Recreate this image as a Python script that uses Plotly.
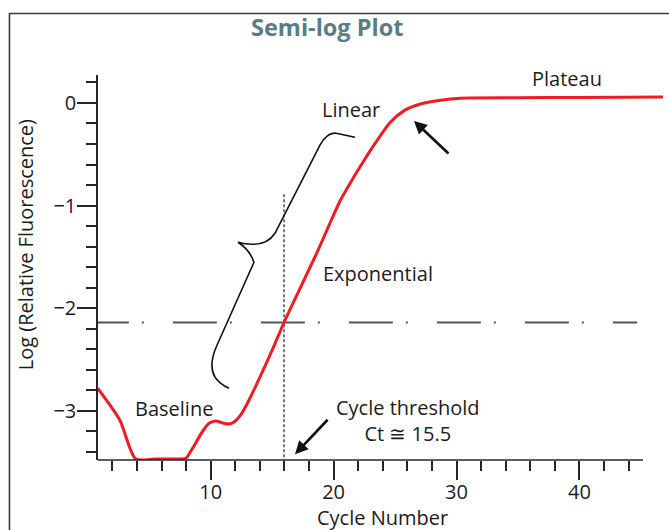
import numpy as np
import plotly.graph_objects as go

# Amplification curve: cycle number vs log(relative fluorescence)
cycles = [0.8, 2.6, 3.9, 5.5, 7.6, 8.0, 8.5, 9.4, 9.9, 10.4, 11.0, 11.5, 11.9,
          12.5, 13.1, 13.9, 15.0, 16.0, 17.3, 18.6, 19.6, 20.5, 21.5, 22.4,
          23.4, 24.6, 25.8, 27.0, 28.7, 30.3, 35.0, 40.0, 46.8]
log_fluor = [-2.78, -3.09, -3.47, -3.47, -3.47, -3.46, -3.37, -3.19, -3.12, -3.10,
             -3.12, -3.13, -3.11, -3.03, -2.90, -2.70, -2.41, -2.13, -1.80, -1.47,
             -1.20, -0.96, -0.75, -0.575, -0.39, -0.19, -0.07, -0.013, 0.026,
             0.046, 0.05, 0.054, 0.058]

threshold = -2.14
ct_label = 15.5

x_tick_vals = [10, 20, 30, 40]
x_minor_vals = [v for v in range(2, 46, 2) if v % 10]
y_tick_vals = [0, -1, -2, -3]
y_tick_text = ["0", "\u22121", "\u22122", "\u22123"]
y_minor_vals = [round(-3.4 + 0.2 * i, 1) for i in range(19)]
y_minor_vals = [v for v in y_minor_vals if abs(v - round(v)) > 1e-6]

X_RANGE = [0.83, 46.8]
Y_RANGE = [-3.48, 0.2724]

INK = "#1c1c1c"
AXIS = "#262626"
RED = "#ee1c24"
FONT = "Open Sans"

# Cycle where the rising curve meets the threshold
cx = np.array(cycles)
cy = np.array(log_fluor)
rise = (cx >= 13) & (cx <= 21)
ct_cross = float(np.interp(threshold, cy[rise], cx[rise]))

fig = go.Figure()

# threshold line (dash-dot)
fig.add_trace(go.Scatter(
    x=[-0.24, 44.7], y=[threshold, threshold], mode="lines",
    line=dict(color="#555555", width=2, dash="44px,13px,2px,29px"),
    hoverinfo="skip", showlegend=False))

# Ct marker line
fig.add_trace(go.Scatter(
    x=[ct_cross, ct_cross], y=[-0.89, Y_RANGE[0]], mode="lines",
    line=dict(color="#222222", width=1.2, dash="3px,2px"),
    hoverinfo="skip", showlegend=False))

# amplification curve
fig.add_trace(go.Scatter(
    x=cycles, y=log_fluor, mode="lines",
    line=dict(color=RED, width=3, shape="spline", smoothing=0.7),
    showlegend=False))

# curly brace spanning the exponential/linear phases
brace = ("M 21.74,-0.334 L 20.20,-0.295 Q 19.46,-0.286 18.89,-0.412 "
         "L 15.23,-1.270 Q 14.66,-1.377 13.44,-1.377 "
         "Q 12.71,-1.377 12.22,-1.358 Q 13.20,-1.435 13.52,-1.553 "
         "L 10.51,-2.362 Q 9.78,-2.556 10.35,-2.673 Q 10.76,-2.742 11.49,-2.781")
fig.add_shape(type="path", path=brace, xref="x", yref="y",
              line=dict(color="#111111", width=1.6))

# x axis line (ends before the plot edge)
fig.add_shape(type="line", xref="paper", yref="paper", x0=0, x1=0.9646, y0=0, y1=0,
              line=dict(color=AXIS, width=1.5))

# outer frame (top and left edges)
fig.add_shape(type="path", xref="paper", yref="paper",
              path="M 1.02,1.1597 L -0.1567,1.1597 L -0.1567,-0.2",
              line=dict(color="#3a3a3a", width=1.6))

label_font = dict(family=FONT, size=20, color=INK)

annotations = [
    dict(text="<b>Semi-log Plot</b>", xref="paper", yref="paper", x=0.405, y=1.1247,
         showarrow=False, font=dict(family=FONT, size=23.5, color="#587d84")),
    dict(text="Plateau", x=38.96, y=0.238, showarrow=False, font=label_font),
    dict(text="Linear", x=21.4, y=-0.064, showarrow=False, font=label_font),
    dict(text="Exponential", x=23.6, y=-1.66, showarrow=False, font=label_font),
    dict(text="Baseline", x=7.01, y=-2.975, showarrow=False, font=label_font),
    dict(text=f"Cycle threshold<br>Ct \u2245 {ct_label}", x=26.05, y=-3.097,
         showarrow=False, align="center", font=label_font),
    dict(text="", x=26.54, y=-0.175, ax=36, ay=34, showarrow=True,
         arrowhead=2, arrowsize=1, arrowwidth=2.6, arrowcolor="#111111"),
    dict(text="", x=16.86, y=-3.424, ax=34, ay=-36, showarrow=True,
         arrowhead=2, arrowsize=1, arrowwidth=2.6, arrowcolor="#111111"),
    dict(text="Log (Relative Fluorescence)", xref="paper", yref="paper",
         x=-0.1292, y=0.558, textangle=-90, showarrow=False, font=label_font),
    dict(text="Cycle Number", xref="paper", yref="paper", x=0.5035, y=-0.149,
         showarrow=False, font=label_font),
]
for a in annotations:
    a.setdefault("xref", "x")
    a.setdefault("yref", "y")
    a.setdefault("xanchor", "center")
    a.setdefault("yanchor", "middle")
fig.update_layout(annotations=annotations)

tick_common = dict(ticks="outside", ticklen=19, tickwidth=1.5, tickcolor=AXIS,
                   tickfont=dict(family=FONT, size=20, color=INK),
                   showgrid=False, zeroline=False)
minor_common = dict(tickmode="array", ticks="outside", ticklen=10, tickwidth=1.5,
                    tickcolor=AXIS, showgrid=False)

fig.update_xaxes(range=X_RANGE, showline=False, tickmode="array",
                 tickvals=x_tick_vals, ticklabelstandoff=-5,
                 minor=dict(tickvals=x_minor_vals, **minor_common),
                 **tick_common)
fig.update_yaxes(range=Y_RANGE, showline=True, linecolor=AXIS, linewidth=1.5,
                 tickmode="array", tickvals=y_tick_vals, ticktext=y_tick_text,
                 ticklabelstandoff=-3,
                 minor=dict(tickvals=y_minor_vals, **minor_common), **tick_common)

fig.update_layout(width=669, height=530, margin=dict(l=98, r=6, t=75, b=70),
                  plot_bgcolor="white", paper_bgcolor="white",
                  font=dict(family=FONT, color=INK), showlegend=False)

fig.write_html("out.html")
